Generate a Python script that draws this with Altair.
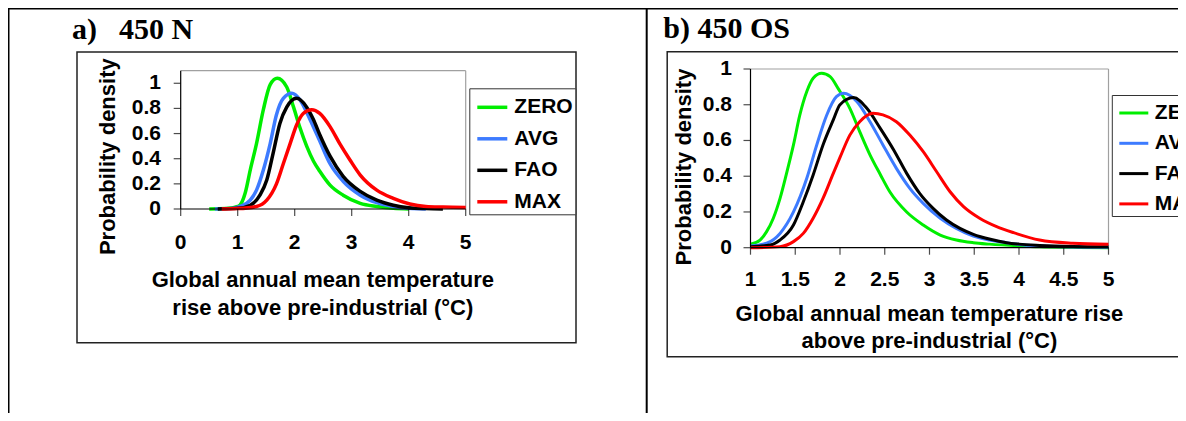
import altair as alt
import pandas as pd

SERIES = ["ZERO", "AVG", "FAO", "MAX"]
COLORS = ["#00ee00", "#3d7bff", "#000000", "#ff0000"]

# ---- panel a) 450 N : probability density curves ----
A_ZERO_X = [0.5, 0.8, 1.0, 1.04, 1.13, 1.22, 1.33, 1.45, 1.57, 1.695, 1.86, 1.98, 2.09, 2.21, 2.33, 2.44, 2.62, 2.85, 3.15, 3.44, 3.73, 4.0]
A_ZERO_Y = [0.0, 0.003, 0.02, 0.03, 0.125, 0.31, 0.52, 0.79, 0.99, 1.04, 0.97, 0.81, 0.65, 0.50, 0.38, 0.30, 0.19, 0.11, 0.045, 0.02, 0.005, 0.0]
A_AVG_X = [0.6, 0.9, 1.04, 1.22, 1.33, 1.45, 1.57, 1.68, 1.80, 1.95, 2.09, 2.27, 2.44, 2.62, 2.85, 3.15, 3.44, 3.73, 4.0, 4.3]
A_AVG_Y = [0.0, 0.005, 0.02, 0.07, 0.15, 0.31, 0.52, 0.75, 0.88, 0.92, 0.87, 0.71, 0.54, 0.36, 0.22, 0.11, 0.05, 0.02, 0.005, 0.0]
A_FAO_X = [0.65, 1.0, 1.22, 1.39, 1.51, 1.62, 1.74, 1.86, 2.035, 2.21, 2.33, 2.44, 2.62, 2.85, 3.15, 3.44, 3.73, 4.0, 4.3, 4.6]
A_FAO_Y = [0.0, 0.005, 0.03, 0.11, 0.23, 0.44, 0.68, 0.81, 0.88, 0.81, 0.71, 0.59, 0.42, 0.26, 0.14, 0.07, 0.03, 0.01, 0.003, 0.0]
A_MAX_X = [0.72, 1.0, 1.33, 1.51, 1.68, 1.80, 1.92, 2.035, 2.15, 2.30, 2.44, 2.62, 2.79, 2.97, 3.15, 3.44, 3.73, 4.02, 4.3, 4.6, 5.0]
A_MAX_Y = [0.0, 0.003, 0.02, 0.07, 0.20, 0.36, 0.52, 0.67, 0.76, 0.79, 0.76, 0.655, 0.52, 0.39, 0.27, 0.15, 0.085, 0.04, 0.02, 0.015, 0.012]

# ---- panel b) 450 OS ----
B_ZERO_X = [1.0, 1.106, 1.18, 1.255, 1.33, 1.40, 1.48, 1.55, 1.63, 1.70, 1.795, 1.89, 1.98, 2.11, 2.22, 2.335, 2.45, 2.56, 2.745, 2.93, 3.12, 3.30, 3.49, 3.67, 4.0, 4.23, 4.6, 5.0]
B_ZERO_Y = [0.02, 0.043, 0.09, 0.165, 0.276, 0.41, 0.575, 0.74, 0.875, 0.948, 0.976, 0.957, 0.89, 0.78, 0.65, 0.52, 0.41, 0.31, 0.20, 0.127, 0.071, 0.043, 0.028, 0.02, 0.01, 0.005, 0.002, 0.0]
B_AVG_X = [1.0, 1.18, 1.33, 1.48, 1.63, 1.74, 1.85, 1.96, 2.04, 2.19, 2.335, 2.48, 2.63, 2.78, 2.93, 3.12, 3.30, 3.49, 3.67, 3.86, 4.0, 4.23, 4.6, 5.0]
B_AVG_Y = [0.01, 0.025, 0.08, 0.20, 0.39, 0.575, 0.74, 0.845, 0.864, 0.817, 0.705, 0.575, 0.444, 0.332, 0.248, 0.165, 0.108, 0.065, 0.043, 0.028, 0.018, 0.01, 0.004, 0.002]
B_FAO_X = [1.0, 1.22, 1.33, 1.48, 1.59, 1.70, 1.81, 1.925, 2.0, 2.15, 2.30, 2.45, 2.60, 2.745, 2.89, 3.04, 3.19, 3.34, 3.49, 3.68, 3.86, 4.0, 4.23, 4.6, 5.0]
B_FAO_Y = [0.005, 0.015, 0.043, 0.127, 0.257, 0.407, 0.575, 0.715, 0.80, 0.84, 0.78, 0.668, 0.547, 0.416, 0.304, 0.22, 0.155, 0.108, 0.075, 0.047, 0.028, 0.02, 0.013, 0.007, 0.005]
B_MAX_X = [1.0, 1.33, 1.48, 1.59, 1.70, 1.81, 1.925, 2.0, 2.11, 2.22, 2.37, 2.48, 2.63, 2.78, 2.93, 3.08, 3.23, 3.38, 3.56, 3.75, 3.94, 4.23, 4.6, 5.0]
B_MAX_Y = [0.0, 0.006, 0.034, 0.08, 0.165, 0.276, 0.416, 0.505, 0.63, 0.705, 0.752, 0.743, 0.705, 0.63, 0.537, 0.425, 0.313, 0.23, 0.165, 0.118, 0.084, 0.043, 0.025, 0.019]

# ---- tick labels ----
A_XTICKS = [0, 1, 2, 3, 4, 5]
A_XLABELS = ["0", "1", "2", "3", "4", "5"]
A_YTICKS = [0, 0.2, 0.4, 0.6, 0.8, 1.0]
A_YLABELS = ["0", "0.2", "0.4", "0.6", "0.8", "1"]
B_XTICKS = [1, 1.5, 2, 2.5, 3, 3.5, 4, 4.5, 5]
B_XLABELS = ["1", "1.5", "2", "2.5", "3", "3.5", "4", "4.5", "5"]
B_YTICKS = [0, 0.2, 0.4, 0.6, 0.8, 1.0]
B_YLABELS = ["0", "0.2", "0.4", "0.6", "0.8", "1"]

XTITLE_A = ["Global annual mean temperature", "rise above pre-industrial (°C)"]
XTITLE_B = ["Global annual mean temperature rise", "above pre-industrial (°C)"]
YTITLE = "Probability density"

SANS = "Liberation Sans"
SERIF = "Liberation Serif"

# scales (domain -> pixel range inside the canvas)
XA = dict(domain=[0, 5], range=[172.7, 457.7])
YA = dict(domain=[0, 1.1], range=[201, 62.7])
XB = dict(domain=[1, 5], range=[742.5, 1100.5])
YB = dict(domain=[0, 1], range=[239.7, 61])


def sc(d):
    return alt.Scale(domain=d["domain"], range=d["range"], nice=False, zero=False)


def curves(xs, ys):
    rows = []
    for s, (x, y) in zip(SERIES, zip(xs, ys)):
        for i, (a, b) in enumerate(zip(x, y)):
            rows.append({"s": s, "x": a, "y": b, "i": i})
    return pd.DataFrame(rows)


df_a = curves([A_ZERO_X, A_AVG_X, A_FAO_X, A_MAX_X], [A_ZERO_Y, A_AVG_Y, A_FAO_Y, A_MAX_Y])
df_b = curves([B_ZERO_X, B_AVG_X, B_FAO_X, B_MAX_X], [B_ZERO_Y, B_AVG_Y, B_FAO_Y, B_MAX_Y])
one = pd.DataFrame({"d": [0]})

W, H = 1170, 405


def panel(df, X, Y, xt, xl, yt, yl, lw, legx, legy, symsize, rowpad, xlab_dy, ylab_dx):
    xmin, xmax = X["domain"]
    ymin, ymax = Y["domain"]
    layers = []
    base1 = alt.Chart(one)
    # plot frame (grey top/right)
    layers.append(base1.mark_rule(color="#a0a0a0", strokeWidth=1.2).encode(
        x=alt.XDatum(xmin, scale=sc(X), axis=None), x2=alt.X2Datum(xmax),
        y=alt.YDatum(ymax, scale=sc(Y), axis=None)))
    layers.append(base1.mark_rule(color="#a0a0a0", strokeWidth=1.2).encode(
        x=alt.XDatum(xmax, scale=sc(X), axis=None),
        y=alt.YDatum(ymin, scale=sc(Y), axis=None), y2=alt.Y2Datum(ymax)))
    # curves
    layers.append(alt.Chart(df).mark_line(strokeWidth=lw, interpolate="monotone").encode(
        x=alt.X("x:Q", scale=sc(X), axis=None),
        y=alt.Y("y:Q", scale=sc(Y), axis=None),
        order="i:Q",
        color=alt.Color("s:N", scale=alt.Scale(domain=SERIES, range=COLORS),
                        legend=alt.Legend(title=None, orient="none", legendX=legx, legendY=legy,
                                          symbolType="stroke", symbolSize=symsize,
                                          symbolStrokeWidth=lw, labelFont=SANS, labelFontSize=21,
                                          labelFontWeight="bold", labelColor="black",
                                          strokeColor="#333333", fillColor="white",
                                          padding=2, symbolOffset=4, labelOffset=5,
                                          rowPadding=rowpad, labelLimit=300))))
    # axes lines
    layers.append(base1.mark_rule(color="black", strokeWidth=1.2).encode(
        x=alt.XDatum(xmin, scale=sc(X), axis=None), x2=alt.X2Datum(xmax),
        y=alt.YDatum(ymin, scale=sc(Y), axis=None)))
    layers.append(base1.mark_rule(color="black", strokeWidth=1.2).encode(
        x=alt.XDatum(xmin, scale=sc(X), axis=None),
        y=alt.YDatum(ymin, scale=sc(Y), axis=None), y2=alt.Y2Datum(ymax)))
    # ticks
    dxt = pd.DataFrame({"v": xt, "lab": xl})
    dyt = pd.DataFrame({"v": yt, "lab": yl})
    layers.append(alt.Chart(dxt).mark_tick(orient="vertical", size=7, thickness=1.2, yOffset=3.5,
                                           color="black").encode(
        x=alt.X("v:Q", scale=sc(X), axis=None), y=alt.YDatum(ymin, scale=sc(Y), axis=None)))
    layers.append(alt.Chart(dyt).mark_tick(orient="horizontal", size=7, thickness=1.2, xOffset=-3.5,
                                           color="black").encode(
        y=alt.Y("v:Q", scale=sc(Y), axis=None), x=alt.XDatum(xmin, scale=sc(X), axis=None)))
    # tick labels
    layers.append(alt.Chart(dxt).mark_text(font=SANS, fontSize=21, fontWeight="bold", color="black",
                                           baseline="middle", align="center", dy=xlab_dy).encode(
        x=alt.X("v:Q", scale=sc(X), axis=None), y=alt.YDatum(ymin, scale=sc(Y), axis=None),
        text="lab:N"))
    layers.append(alt.Chart(dyt).mark_text(font=SANS, fontSize=21, fontWeight="bold", color="black",
                                           baseline="middle", align="right", dx=ylab_dx).encode(
        y=alt.Y("v:Q", scale=sc(Y), axis=None), x=alt.XDatum(xmin, scale=sc(X), axis=None),
        text="lab:N"))
    return layers


def txt(s, x, y, size=22, font=SANS, align="center", angle=0):
    return alt.Chart(one).mark_text(text=s, font=font, fontSize=size, fontWeight="bold",
                                    color="black", align=align, baseline="alphabetic",
                                    angle=angle).encode(x=alt.value(x), y=alt.value(y))


def box(x0, x1, y0, y1, color="#222222", sw=1.5):
    return alt.Chart(one).mark_rect(fillOpacity=0, stroke=color, strokeWidth=sw).encode(
        x=alt.value(x0), x2=alt.value(x1), y=alt.value(y0), y2=alt.value(y1))


def line(x0, x1, y0, y1, sw=2):
    return alt.Chart(one).mark_rule(color="black", strokeWidth=sw).encode(
        x=alt.value(x0), x2=alt.value(x1), y=alt.value(y0), y2=alt.value(y1))


layers = []
# table borders
layers.append(line(0, W, 0.5, 0.5))
layers.append(line(0.5, 0.5, 0, H))
layers.append(line(638.7, 638.7, 0, H))
# chart boxes
layers.append(box(69, 568, 44, 334.7))
layers.append(box(659.2, 1210, 43.7, 348.7))
# titles
layers.append(txt("a)", 64, 30.5, size=30, font=SERIF, align="left"))
layers.append(txt("450 N", 111, 30.5, size=30, font=SERIF, align="left"))
layers.append(txt("b) 450 OS", 655.3, 30.3, size=30, font=SERIF, align="left"))
# panel a
layers += panel(df_a, XA, YA, A_XTICKS, A_XLABELS, A_YTICKS, A_YLABELS, 3.5, 461.3, 80.3, 900, 4.5, 33.5, -19.7)
layers.append(txt(XTITLE_A[0], 314.8, 279.3))
layers.append(txt(XTITLE_A[1], 314.8, 307))
layers.append(txt(YTITLE, 106.8, 148.7, angle=270))
# panel b
layers += panel(df_b, XB, YB, B_XTICKS, B_XLABELS, B_YTICKS, B_YLABELS, 3, 1103.8, 87, 841, 4.3, 32.3, -18.5)
layers.append(txt(XTITLE_B[0], 921.4, 313.3))
layers.append(txt(XTITLE_B[1], 921.4, 340))
layers.append(txt(YTITLE, 683, 159, angle=270))

chart = alt.layer(*layers).resolve_scale(
    x="independent", y="independent", color="independent"
).resolve_legend(color="independent").properties(
    width=W, height=H, padding=0, autosize=alt.AutoSizeParams(type="none"),
    background="white"
).configure_view(stroke=None)

chart.save("out.html", embed_options={"renderer": "svg", "actions": False})
